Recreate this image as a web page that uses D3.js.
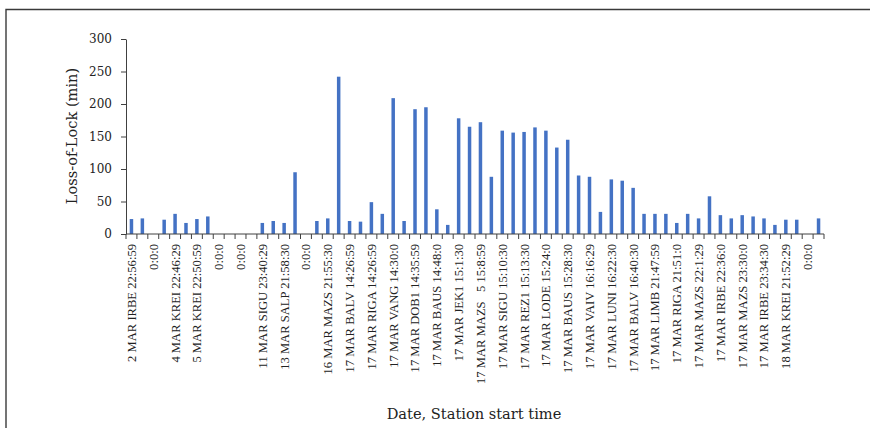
<!DOCTYPE html>
<html>
<head>
<meta charset="utf-8">
<script src="https://cdn.jsdelivr.net/npm/d3@7"></script>
<style>
  html, body { margin: 0; padding: 0; background: #fff; }
  svg { display: block; }
  .axis path, .axis line { stroke: #404040; }
  .xlab text { white-space: pre; }
</style>
</head>
<body>
<svg id="chart"></svg>
<script>
// loss-of-lock per station, one bar per category; only every second category is labelled
const values = [
  23, 24, 0, 22, 31, 17, 23, 27, 0, 0, 0, 0, 17, 20, 17, 95,
  0, 20, 24, 242, 20, 19, 49, 31, 209, 20, 192, 195, 38, 14, 178, 165,
  172, 88, 159, 156, 157, 164, 159, 133, 145, 90, 88, 34, 84, 82, 71, 31,
  31, 31, 17, 31, 24, 58, 29, 24, 29, 27, 24, 14, 22, 22, 0, 24
];
const tickLabels = [
  '2 MAR IRBE 22:56:59', '0:0:0', '4 MAR KREI 22:46:29', '5 MAR KREI 22:50:59',
  '0:0:0', '0:0:0', '11 MAR SIGU 23:40:29', '13 MAR SALP 21:58:30',
  '0:0:0', '16 MAR MAZS 21:55:30', '17 MAR BALV 14:26:59', '17 MAR RIGA 14:26:59',
  '17 MAR VANG 14:30:0', '17 MAR DOB1 14:35:59', '17 MAR BAUS 14:48:0', '17 MAR JEK1 15:1:30',
  '17 MAR MAZS   5 15:8:59', '17 MAR SIGU 15:10:30', '17 MAR REZ1 15:13:30', '17 MAR LODE 15:24:0',
  '17 MAR BAUS 15:28:30', '17 MAR VAIV 16:16:29', '17 MAR LUNI 16:22:30', '17 MAR BALV 16:40:30',
  '17 MAR LIMB 21:47:59', '17 MAR RIGA 21:51:0', '17 MAR MAZS 22:1:29', '17 MAR IRBE 22:36:0',
  '17 MAR MAZS 23:30:0', '17 MAR IRBE 23:34:30', '18 MAR KREI 21:52:29', '0:0:0'
];
const yTicks = [0, 50, 100, 150, 200, 250, 300];

const W = 870, H = 428;
const MARGIN = { top: 39, right: 46, bottom: 194, left: 126 };
const BLUE = '#4472C4';

const svg = d3.select('#chart').attr('width', W).attr('height', H);

// frame (only top and left edges fall inside the crop)
svg.append('path')
  .attr('d', `M6,${H}V9.5H${W}`)
  .attr('fill', 'none')
  .attr('stroke', '#3a3a3a')
  .attr('stroke-width', 1.4);

const idx = d3.range(values.length);
const x = d3.scaleBand()
  .domain(idx)
  .range([MARGIN.left, W - MARGIN.right])
  .paddingInner(0.68)
  .paddingOuter(0.34);
const y = d3.scaleLinear().domain([0, 300]).range([H - MARGIN.bottom, MARGIN.top]);
const step = x.step();
const edge = i => x(i) - step * x.paddingInner() / 2;

// bars
svg.append('g').selectAll('rect')
  .data(values)
  .join('rect')
    .attr('x', (d, i) => x(i))
    .attr('y', d => y(d))
    .attr('width', x.bandwidth())
    .attr('height', d => y(0) - y(d))
    .attr('fill', BLUE);

// y axis
svg.append('g')
  .attr('class', 'axis')
  .attr('transform', `translate(${MARGIN.left},0)`)
  .call(d3.axisLeft(y).tickValues(yTicks).tickSize(5).tickSizeOuter(0).tickPadding(9))
  .call(g => g.selectAll('text')
    .attr('font-family', 'DejaVu Serif')
    .attr('font-size', 12)
    .attr('fill', '#222'));

// x axis: baseline and ticks at category boundaries
const xAxis = svg.append('g').attr('class', 'axis');
xAxis.append('line')
  .attr('x1', edge(0)).attr('x2', edge(values.length - 1) + step)
  .attr('y1', y(0)).attr('y2', y(0));
xAxis.selectAll('line.tick')
  .data(d3.range(values.length + 1))
  .join('line')
    .attr('class', 'tick')
    .attr('x1', i => i < values.length ? edge(i) : edge(i - 1) + step)
    .attr('x2', i => i < values.length ? edge(i) : edge(i - 1) + step)
    .attr('y1', y(0)).attr('y2', y(0) + 5);

// category labels on every second bar
svg.append('g').attr('class', 'xlab')
  .selectAll('text')
  .data(tickLabels)
  .join('text')
    .attr('transform', (d, i) => `translate(${x(i * 2) + x.bandwidth() / 2},${y(0) + 10}) rotate(-90)`)
    .attr('text-anchor', 'end')
    .attr('dy', '0.35em')
    .attr('font-family', 'Liberation Serif')
    .attr('font-size', 12.6)
    .attr('fill', '#222')
    .text(d => d);

// axis titles
svg.append('text')
  .attr('x', 474).attr('y', 419)
  .attr('text-anchor', 'middle')
  .attr('font-family', 'DejaVu Serif')
  .attr('font-size', 14.6)
  .attr('fill', '#222')
  .text('Date, Station start time');

svg.append('text')
  .attr('transform', 'translate(77,136) rotate(-90)')
  .attr('text-anchor', 'middle')
  .attr('font-family', 'DejaVu Serif')
  .attr('font-size', 14.6)
  .attr('fill', '#222')
  .text('Loss-of-Lock (min)');
</script>
</body>
</html>
